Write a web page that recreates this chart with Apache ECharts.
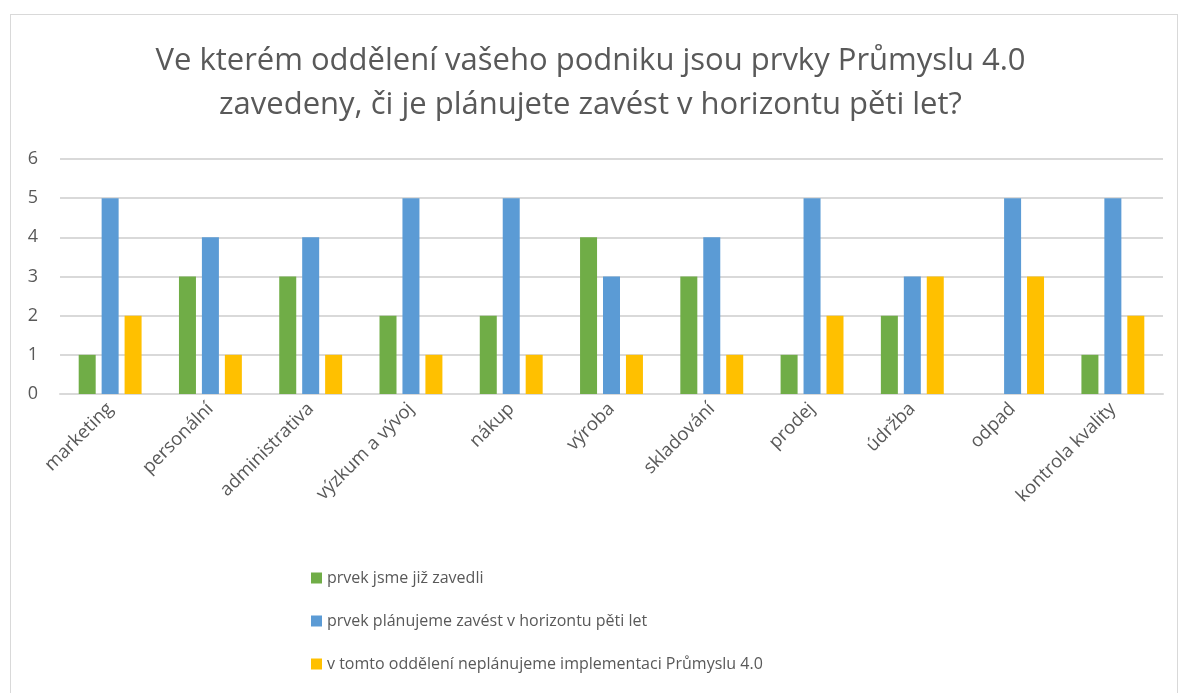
<!DOCTYPE html>
<html>
<head>
<meta charset="utf-8">
<script src="https://cdn.jsdelivr.net/npm/echarts@6/dist/echarts.min.js"></script>
<style>
  html, body { margin: 0; padding: 0; background: #fff; }
  #frame { position: absolute; left: 10px; top: 14px; width: 1166px; height: 700px; border: 1px solid #d9d9d9; }
  #chart { position: absolute; left: 0; top: 0; width: 1181px; height: 693px; }
</style>
</head>
<body>
<div id="frame"></div>
<div id="chart"></div>
<script>
const categories = ['marketing', 'personální', 'administrativa', 'výzkum a vývoj', 'nákup', 'výroba', 'skladování', 'prodej', 'údržba', 'odpad', 'kontrola kvality']
const seriesNames = [
  'prvek jsme již zavedli',
  'prvek plánujeme zavést v horizontu pěti let',
  'v tomto oddělení neplánujeme implementaci Průmyslu 4.0'
]
const zavedeno = [1, 3, 3, 2, 2, 4, 3, 1, 2, 0, 1]
const planujeme = [5, 4, 4, 5, 5, 3, 4, 5, 3, 5, 5]
const neplanujeme = [2, 1, 1, 1, 1, 1, 1, 2, 3, 3, 2]
const colors = ['#70AD47', '#5B9BD5', '#FFC000']

const font = '"Open Sans", "Liberation Sans", sans-serif'
const chart = echarts.init(document.getElementById('chart'))

const mkSeries = (name, data, color) => ({
  name, type: 'bar', data,
  barWidth: 17,
  barGap: '35%',
  itemStyle: { color },
  emphasis: { disabled: true }
})

chart.setOption({
  animation: false,
  textStyle: { fontFamily: font },
  title: {
    text: 'Ve kterém oddělení vašeho podniku jsou prvky Průmyslu 4.0\nzavedeny, či je plánujete zavést v horizontu pěti let?',
    left: 'center', top: 34,
    textStyle: { fontSize: 31, fontWeight: 'normal', color: '#595959', lineHeight: 44, fontFamily: font }
  },
  legend: {
    orient: 'vertical',
    left: 306, top: 565,
    itemWidth: 11, itemHeight: 11, itemGap: 27,
    icon: 'rect',
    textStyle: { fontSize: 16, color: '#595959', fontFamily: font },
    data: seriesNames
  },
  grid: { left: 60, right: 18, top: 159, bottom: 299 },
  xAxis: {
    type: 'category',
    data: categories,
    axisLine: { lineStyle: { color: '#d9d9d9', width: 2 } },
    axisTick: { show: false },
    axisLabel: { rotate: 45, fontSize: 18.5, color: '#595959', margin: 12, interval: 0, fontFamily: font }
  },
  yAxis: {
    type: 'value', min: 0, max: 6, interval: 1,
    axisLine: { show: false },
    axisTick: { show: false },
    axisLabel: { fontSize: 18, color: '#595959', margin: 22, fontFamily: font },
    splitLine: { lineStyle: { color: '#d9d9d9', width: 2 } }
  },
  series: [
    mkSeries(seriesNames[0], zavedeno, colors[0]),
    mkSeries(seriesNames[1], planujeme, colors[1]),
    mkSeries(seriesNames[2], neplanujeme, colors[2])
  ]
})
</script>
</body>
</html>
